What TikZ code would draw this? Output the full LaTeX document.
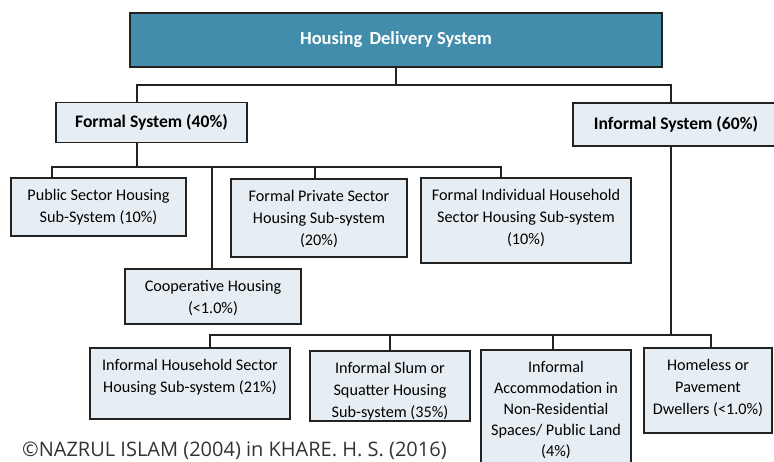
\documentclass[tikz,border=0pt]{standalone}
\usepackage{fontspec}
\setmainfont{Carlito}
\newfontfamily\creditfont{Open Sans}
\definecolor{deliveryteal}{HTML}{418DAB}
\definecolor{subfill}{HTML}{E7EEF3}
\definecolor{edge}{HTML}{222222}
\newcommand{\cell}[3]{\parbox[c][#2pt][t]{#1pt}{\centering\rule{0pt}{22pt}#3}}

\begin{document}
\begin{tikzpicture}[x=1pt,y=-1pt]
    \tikzstyle{head}=[draw=edge, line width=1.4pt, fill=deliveryteal, text=white,
        minimum width=532pt, minimum height=54pt, font=\fontsize{18.5}{20}\selectfont\bfseries]
    \tikzstyle{branch}=[draw=edge, line width=1.4pt, fill=subfill, minimum height=40pt,
        font=\fontsize{17.6}{20}\selectfont\bfseries]
    \tikzstyle{leaf}=[draw=edge, line width=1.4pt, fill=subfill, inner sep=0pt,
        font=\fontsize{16.2}{22}\selectfont]
    \tikzstyle{link}=[draw=edge, line width=1.2pt]
    \useasboundingbox (0,0) rectangle (774,461);
    \clip (0,0) rectangle (774,461);

    % top level
    \node[head] (hds) at (396,40) {Housing\, Delivery System};
    \node[branch, minimum width=191pt] (formal) at (151.5,122.5) {Formal System (40\%)};
    \node[branch, minimum width=206pt, minimum height=43pt] (informal) at (676,124.5) {Informal System (60\%)};

    % formal sub-systems
    \node[leaf] (public) at (98.5,207) {\cell{175}{58}{Public Sector Housing\\Sub-System (10\%)}};
    \node[leaf] (private) at (319,218) {\cell{176}{78}{Formal Private Sector\\Housing Sub-system\\(20\%)}};
    \node[leaf] (individual) at (526,220.5) {\cell{210}{85}{Formal Individual Household\\Sector Housing Sub-system\\(10\%)}};
    \node[leaf] (coop) at (213,296.5) {\cell{176}{55}{Cooperative Housing\\(<1.0\%)}};

    % informal sub-systems
    \node[leaf] (household) at (190,383.5) {\cell{200}{71}{Informal Household Sector\\Housing Sub-system (21\%)}};
    \node[leaf] (slum) at (390,386) {\cell{160}{70}{Informal Slum or\\Squatter Housing\\Sub-system (35\%)}};
    \node[leaf, font=\fontsize{16.2}{21}\selectfont] (accom) at (556,412) {\cell{150}{124}{Informal\\Accommodation in\\Non-Residential\\Spaces/ Public Land\\(4\%)}};
    \node[leaf] (homeless) at (708,390.5) {\cell{128}{85}{Homeless or\\Pavement\\Dwellers (<1.0\%)}};

    \node[anchor=base west, font=\creditfont\fontsize{20}{22}\selectfont, text=black!80, inner sep=0pt] (credit) at (22,456.5)
        {\textcopyright NAZRUL ISLAM (2004) in KHARE. H. S. (2016)};

    % buses
    \coordinate (topl) at (137,85);
    \coordinate (topr) at (671,85);
    \coordinate (forml) at (52,167);
    \coordinate (formr) at (501,167);
    \coordinate (infl) at (210,335);
    \coordinate (infr) at (711,335);

    \draw[link] (hds.south) -- (hds.south |- topl);
    \draw[link] (formal.north -| topl) |- (topr) -- (topr |- informal.north);
    \draw[link] (formal.south -| topl) -- (topl |- forml);
    \draw[link] (public.north -| forml) |- (formr) -- (formr |- individual.north);
    \draw[link] (forml -| 212,0) -- (coop.north -| 212,0);
    \draw[link] (forml -| 315,0) -- (private.north -| 315,0);
    \draw[link] (informal.south -| topr) -- (topr |- infr);
    \draw[link] (household.north -| infl) |- (infr) -- (infr |- homeless.north);
    \draw[link] (infl -| slum.north) -- (slum.north);
    \draw[link] (infl -| 553,0) -- (accom.north -| 553,0);
\end{tikzpicture}
\end{document}
